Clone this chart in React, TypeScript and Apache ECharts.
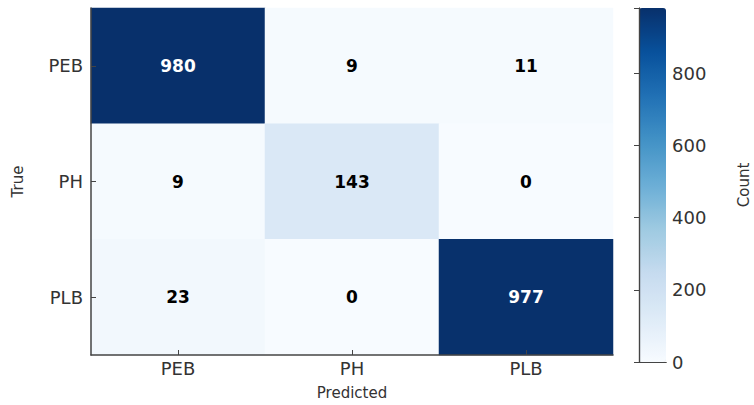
import React, { useEffect, useRef } from "react";
import * as echarts from "echarts";

// Confusion matrix: rows = true class, columns = predicted class
const classes = ["PEB", "PH", "PLB"];
const matrix: number[][] = [
  [980, 9, 11],
  [9, 143, 0],
  [23, 0, 977],
];
const colorbarTicks = [0, 200, 400, 600, 800];
const countMax = 980;

// matplotlib "Blues" colour ramp
const blues = [
  "#f7fbff",
  "#deebf7",
  "#c6dbef",
  "#9ecae1",
  "#6baed6",
  "#4292c6",
  "#2171b5",
  "#08519c",
  "#08306b",
];

const FONT = "DejaVu Sans";
const AXIS_COLOR = "#444";
const TEXT_COLOR = "#333";

export default function App() {
  const ref = useRef<HTMLDivElement>(null);

  useEffect(() => {
    document.body.style.margin = "0";
    if (!ref.current) return;
    const chart = echarts.init(ref.current, undefined, { renderer: "svg" });

    const threshold = countMax / 2;
    const cells: any[] = [];
    matrix.forEach((row, r) => {
      row.forEach((v, c) => {
        cells.push({
          value: [c, r, v],
          label: { color: v > threshold ? "#ffffff" : "#000000" },
        });
      });
    });

    const frameAxis = {
      show: true,
      lineStyle: { color: AXIS_COLOR, width: 1.2 },
    };

    chart.setOption({
      animation: false,
      backgroundColor: "#ffffff",
      textStyle: { fontFamily: FONT },
      grid: [
        { left: 91, top: 8, width: 522, height: 354 },
        { left: 639, top: 8, width: 27, height: 354 },
      ],
      xAxis: [
        {
          type: "category",
          gridIndex: 0,
          data: classes,
          name: "Predicted",
          nameLocation: "middle",
          nameGap: 30,
          nameTextStyle: { fontFamily: FONT, fontSize: 15, color: TEXT_COLOR },
          axisLine: { show: true, lineStyle: { color: AXIS_COLOR, width: 1.5 } },
          axisTick: {
            show: true,
            inside: true,
            alignWithLabel: true,
            length: 5,
            lineStyle: { color: AXIS_COLOR },
          },
          axisLabel: { fontFamily: FONT, fontSize: 18, color: TEXT_COLOR, margin: 4 },
          splitLine: { show: false },
          splitArea: { show: false },
          z: 10,
        },
        // colorbar frame: bottom and top edges
        {
          type: "value",
          gridIndex: 1,
          position: "bottom",
          min: 0,
          max: 1,
          axisLine: frameAxis,
          axisTick: { show: false },
          axisLabel: { show: false },
          splitLine: { show: false },
          z: 10,
        },
        {
          type: "value",
          gridIndex: 1,
          position: "top",
          min: 0,
          max: 1,
          axisLine: frameAxis,
          axisTick: { show: false },
          axisLabel: { show: false },
          splitLine: { show: false },
          z: 10,
        },
      ],
      yAxis: [
        {
          type: "category",
          gridIndex: 0,
          data: classes,
          inverse: true,
          name: "True",
          nameLocation: "middle",
          nameGap: 66,
          nameRotate: 90,
          nameTextStyle: { fontFamily: FONT, fontSize: 15, color: TEXT_COLOR },
          axisLine: { show: true, lineStyle: { color: AXIS_COLOR, width: 1.5 } },
          axisTick: {
            show: true,
            inside: true,
            alignWithLabel: true,
            length: 5,
            lineStyle: { color: AXIS_COLOR },
          },
          axisLabel: { fontFamily: FONT, fontSize: 18, color: TEXT_COLOR, margin: 8 },
          splitLine: { show: false },
          splitArea: { show: false },
          z: 10,
        },
        // colorbar scale on the right edge
        {
          type: "value",
          gridIndex: 1,
          position: "right",
          min: 0,
          max: countMax,
          interval: 200,
          name: "Count",
          nameLocation: "middle",
          nameGap: 70,
          nameRotate: 90,
          nameTextStyle: { fontFamily: FONT, fontSize: 15, color: TEXT_COLOR },
          axisLine: frameAxis,
          axisTick: { show: true, inside: true, length: 5, lineStyle: { color: AXIS_COLOR } },
          axisLabel: {
            fontFamily: FONT,
            fontSize: 18,
            color: TEXT_COLOR,
            margin: 6,
            customValues: colorbarTicks,
          },
          splitLine: { show: false },
          z: 10,
        },
        // colorbar left edge
        {
          type: "value",
          gridIndex: 1,
          position: "left",
          min: 0,
          max: countMax,
          axisLine: frameAxis,
          axisTick: { show: false },
          axisLabel: { show: false },
          splitLine: { show: false },
          z: 10,
        },
      ],
      visualMap: {
        type: "continuous",
        min: 0,
        max: countMax,
        seriesIndex: 0,
        calculable: false,
        realtime: false,
        left: 639,
        top: 8,
        padding: 0,
        itemWidth: 27,
        itemHeight: 354,
        text: ["", ""],
        showLabel: false,
        inRange: { color: blues },
        z: 1,
      },
      series: [
        {
          type: "heatmap",
          xAxisIndex: 0,
          yAxisIndex: 0,
          data: cells,
          label: {
            show: true,
            fontFamily: FONT,
            fontWeight: "bold",
            fontSize: 17,
            formatter: (p: any) => String(p.value[2]),
          },
          itemStyle: { borderWidth: 0 },
          emphasis: { disabled: true },
        },
      ],
    });

    return () => chart.dispose();
  }, []);

  return <div ref={ref} style={{ width: 754, height: 405 }} />;
}
